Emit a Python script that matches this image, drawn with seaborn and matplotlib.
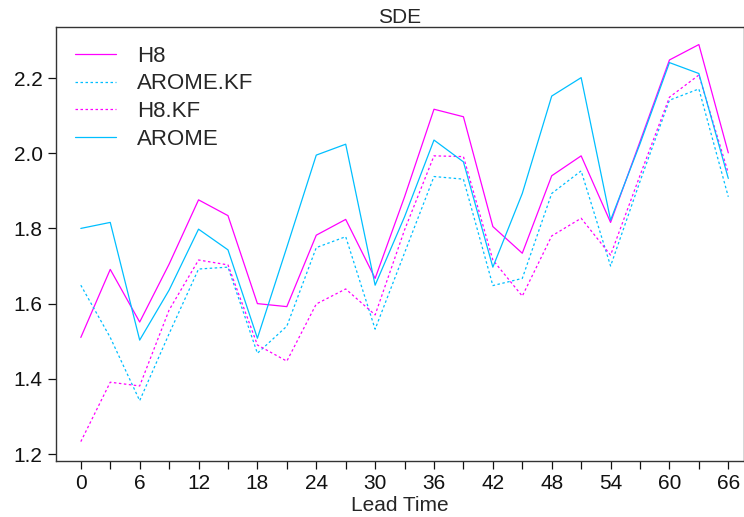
import numpy as np
import pandas as pd
import matplotlib
matplotlib.use("Agg")
import matplotlib.pyplot as plt
import seaborn as sns
from matplotlib.ticker import MultipleLocator

lead_time = [0, 3, 6, 9, 12, 15, 18, 21, 24, 27, 30, 33, 36, 39, 42, 45, 48, 51, 54, 57, 60, 63, 66]

h8 = [1.510, 1.691, 1.551, 1.705, 1.876, 1.834, 1.600, 1.592, 1.782, 1.824, 1.667, 1.884,
      2.117, 2.097, 1.805, 1.734, 1.940, 1.993, 1.816, 2.031, 2.248, 2.289, 2.001]
arome_kf = [1.649, 1.510, 1.342, 1.520, 1.692, 1.697, 1.468, 1.540, 1.749, 1.778, 1.532, 1.735,
            1.938, 1.931, 1.648, 1.667, 1.893, 1.953, 1.700, 1.925, 2.141, 2.171, 1.884]
h8_kf = [1.233, 1.391, 1.381, 1.583, 1.716, 1.703, 1.490, 1.447, 1.599, 1.639, 1.570, 1.796,
         1.993, 1.991, 1.716, 1.620, 1.780, 1.827, 1.729, 1.941, 2.149, 2.208, 1.947]
arome = [1.800, 1.816, 1.503, 1.636, 1.798, 1.743, 1.508, 1.750, 1.995, 2.024, 1.649, 1.831,
         2.035, 1.977, 1.697, 1.893, 2.152, 2.201, 1.822, 2.025, 2.241, 2.212, 1.933]

models = ["H8", "AROME.KF", "H8.KF", "AROME"]
series = [h8, arome_kf, h8_kf, arome]

df = pd.DataFrame({
    "lead": lead_time * len(models),
    "sde": sum(series, []),
    "model": np.repeat(models, len(lead_time)),
})

sns.set_theme(style="ticks")
plt.rcParams["font.family"] = ["Liberation Sans", "DejaVu Sans"]

colors = {"H8": "#ff00ff", "AROME.KF": "#00bfff", "H8.KF": "#ff00ff", "AROME": "#00bfff"}
dashes = {"H8": "", "AROME.KF": (2, 2), "H8.KF": (2, 2), "AROME": ""}

fig = plt.figure(figsize=(7.44, 5.17), dpi=100)
ax = fig.add_axes([0.075, 0.108, 0.925, 0.84])

sns.lineplot(data=df, x="lead", y="sde", hue="model", style="model",
             hue_order=models, style_order=models, palette=colors, dashes=dashes,
             linewidth=0.9, ax=ax)

ax.set_xlim(-2.55, 67.6)
ax.set_ylim(1.181, 2.336)
ax.xaxis.set_major_locator(MultipleLocator(6))
ax.xaxis.set_minor_locator(MultipleLocator(3))
ax.yaxis.set_major_locator(MultipleLocator(0.2))
ax.yaxis.set_major_formatter(matplotlib.ticker.FormatStrFormatter("%.1f"))
ax.tick_params(axis="both", which="both", direction="out", length=6, width=0.9,
               labelsize=15, colors="#111111")
ax.tick_params(axis="x", which="minor", length=6)
for s in ax.spines.values():
    s.set_color("#333333")
    s.set_linewidth(1.0)

ax.set_title("SDE", fontsize=15, pad=3)
ax.set_xlabel("Lead Time", fontsize=15, labelpad=2)
ax.set_ylabel("")

leg = ax.legend(loc="upper left", frameon=False, fontsize=16, handlelength=1.85,
                handletextpad=0.95, labelspacing=0.3, borderaxespad=0.4,
                borderpad=0.45)
for line in leg.get_lines():
    line.set_linewidth(0.9)

fig.savefig("out.png", dpi=100)
